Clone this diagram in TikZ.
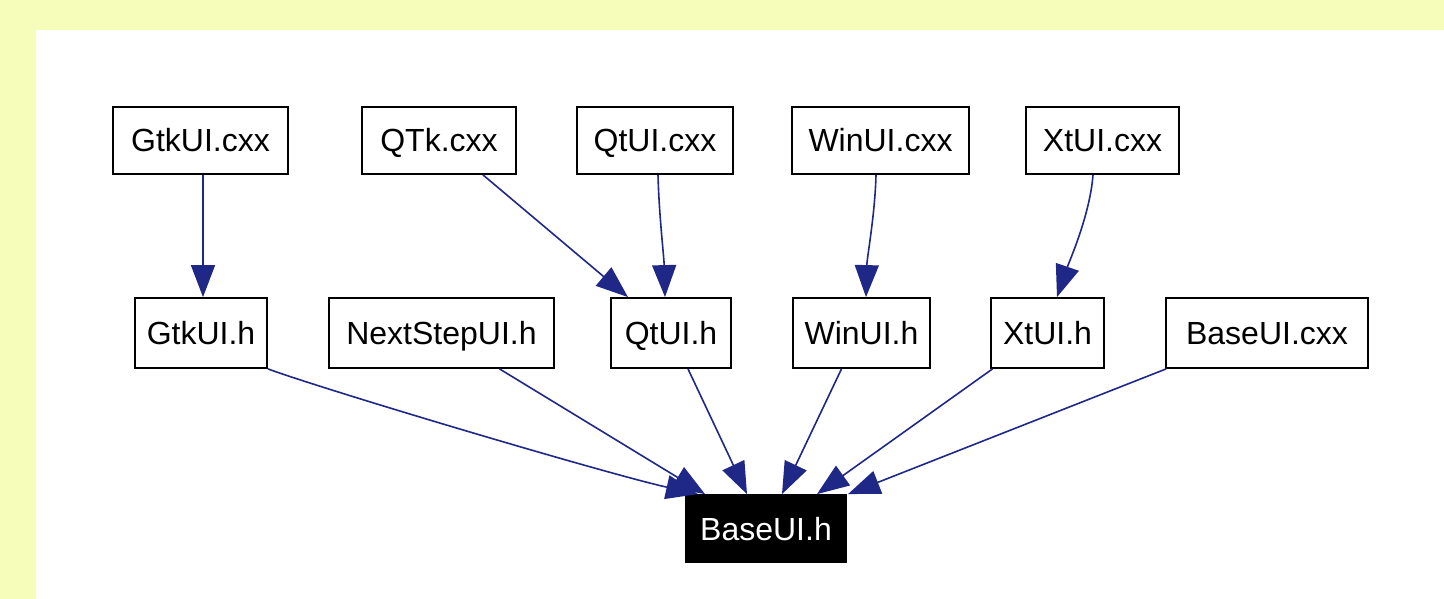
\documentclass[tikz,border=0pt]{standalone}
\usepackage{fontspec}
\setmainfont{Liberation Sans}
\usetikzlibrary{arrows.meta}
\definecolor{pagebg}{RGB}{246,252,186}
\definecolor{edgeblue}{RGB}{32,40,135}
\begin{document}
\begin{tikzpicture}[x=1pt,y=-1pt,
  box/.style={draw=black,line width=1.8pt,fill=white,inner sep=0pt,
    minimum height=67pt,text height=23pt,text depth=0pt,
    font=\fontsize{32}{38}\selectfont},
  boxh/.style={box,minimum height=70pt},
  rootbox/.style={box,fill=black,draw=black,text=white},
  dep/.style={draw=edgeblue,line width=1.6pt,-{Triangle[length=32pt,width=24pt]}}]
\fill[pagebg] (0,0) rectangle (1444,599);
\fill[white] (36,30) rectangle (1444,599);
\useasboundingbox (0,0) rectangle (1444,599);
% row 1
\node[box,minimum width=175pt] (gtkcxx) at (200.5,140.5) {GtkUI.cxx};
\node[box,minimum width=154pt] (qtkcxx) at (439,140.5) {QTk.cxx};
\node[box,minimum width=156pt] (qtcxx) at (655,140.5) {QtUI.cxx};
\node[box,minimum width=177pt] (wincxx) at (880.5,140.5) {WinUI.cxx};
\node[box,minimum width=153pt] (xtcxx) at (1102.5,140.5) {XtUI.cxx};
% row 2
\node[boxh,minimum width=132pt] (gtkh) at (201,333) {GtkUI.h};
\node[boxh,minimum width=225pt] (nsh) at (441.5,333) {NextStepUI.h};
\node[boxh,minimum width=120pt] (qth) at (671,333) {QtUI.h};
\node[boxh,minimum width=137pt] (winh) at (861.5,333) {WinUI.h};
\node[boxh,minimum width=113pt] (xth) at (1047.5,333) {XtUI.h};
\node[boxh,minimum width=202pt] (basecxx) at (1267,333) {BaseUI.cxx};
% row 3
\node[rootbox,minimum width=160pt] (baseh) at (766,528.5) {BaseUI.h};
% edges row1 -> row2
\draw[dep] ([xshift=2.5pt]gtkcxx.south) -- ([xshift=2pt]gtkh.north);
\draw[dep] ([xshift=44pt]qtkcxx.south) -- ([xshift=-43pt]qth.north);
\draw[dep] ([xshift=3pt]qtcxx.south) .. controls +(1,40) and +(-1,-40) .. ([xshift=-6pt]qth.north);
\draw[dep] ([xshift=-4.5pt]wincxx.south) .. controls +(-1,40) and +(1,-40) .. ([xshift=4.5pt]winh.north);
\draw[dep] ([xshift=-9.5pt]xtcxx.south) .. controls +(-3,40) and +(12,-35) .. ([xshift=9.5pt]xth.north);
% edges row2 -> BaseUI.h
\draw[dep] (gtkh.south east) .. controls +(60,22) and +(-90,-20) .. ([xshift=-68pt]baseh.north);
\draw[dep] ([xshift=58pt]nsh.south) -- ([xshift=-61pt]baseh.north);
\draw[dep] ([xshift=17pt]qth.south) -- ([xshift=-19pt]baseh.north);
\draw[dep] ([xshift=-20pt]winh.south) -- ([xshift=16pt]baseh.north);
\draw[dep] ([xshift=-55pt]xth.south) -- ([xshift=51pt]baseh.north);
\draw[dep] ([xshift=1pt]basecxx.south west) -- ([xshift=82pt]baseh.north);
\end{tikzpicture}
\end{document}
